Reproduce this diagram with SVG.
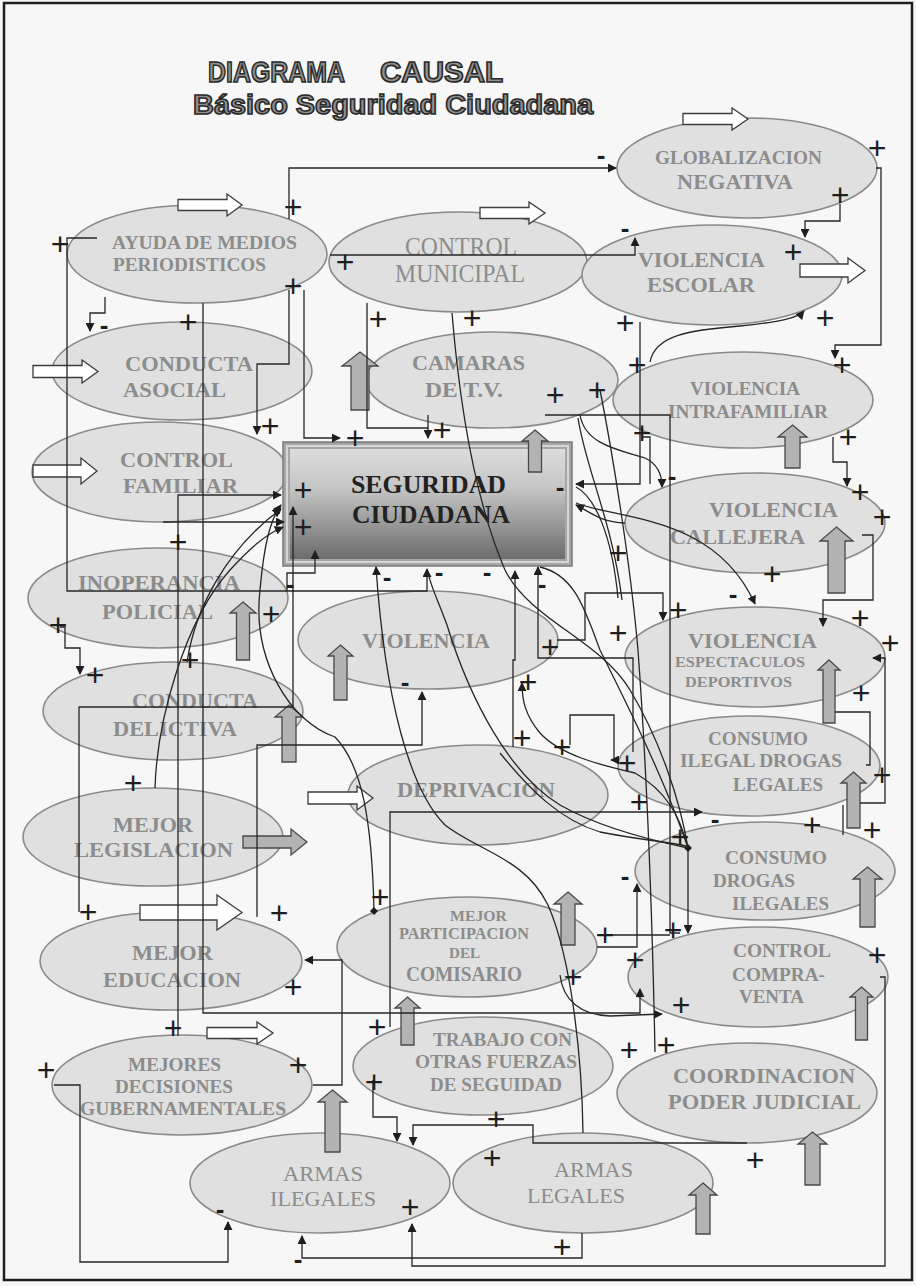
<svg xmlns="http://www.w3.org/2000/svg" width="916" height="1286" viewBox="0 0 916 1286">
<defs>
<style>
.bg{fill:#f7f7f7}
.frame{fill:none;stroke:#1e1e1e;stroke-width:2.5}
.title{font-family:"Liberation Sans",Arial,sans-serif;font-weight:bold;fill:#8f8f8f;stroke:#2a2a2a;stroke-width:1.6}
.n{fill:#e0e0e0;stroke:#8a8a8a;stroke-width:1.6}
.t{font-family:"Liberation Serif","Times New Roman",serif;font-weight:bold;fill:#8c8c8c}
.tr{font-family:"Liberation Serif","Times New Roman",serif;font-weight:normal;fill:#8c8c8c}
.tb{font-family:"Liberation Serif","Times New Roman",serif;font-weight:bold;fill:#222}
.ha{fill:#ffffff;stroke:#3c3c3c;stroke-width:1.3}
.ga{fill:#b3b3b3;stroke:#484848;stroke-width:1.3}
.c{fill:none;stroke:#262626;stroke-width:1.3}
.p{font-family:"Liberation Sans",Arial,sans-serif;font-size:32px;fill:#1e1e1e;text-anchor:middle}
.m{font-family:"Liberation Sans",Arial,sans-serif;font-size:26px;font-weight:bold;fill:#1e1e1e;text-anchor:middle}
</style>
<linearGradient id="g" x1="0" y1="0" x2="0" y2="1">
<stop offset="0" stop-color="#dcdcdc"/>
<stop offset="0.35" stop-color="#c6c6c6"/>
<stop offset="1" stop-color="#6c6c6c"/>
</linearGradient>
<marker id="ah" viewBox="0 0 10 10" refX="9" refY="5" markerWidth="9" markerHeight="9" markerUnits="userSpaceOnUse" orient="auto">
<path d="M0,0 L10,5 L0,10 z" fill="#1e1e1e"/>
</marker>
<marker id="dot" viewBox="0 0 10 10" refX="5" refY="5" markerWidth="8" markerHeight="8" markerUnits="userSpaceOnUse" orient="auto">
<path d="M5,0 L10,5 L5,10 L0,5 z" fill="#1e1e1e"/>
</marker>
</defs>

<rect class="bg" x="0" y="0" width="916" height="1286"/>
<rect class="frame" x="4" y="3" width="908" height="1277"/>

<g id="title">
<text class="title" x="208" y="82" font-size="29" textLength="137" lengthAdjust="spacingAndGlyphs">DIAGRAMA</text>
<text class="title" x="380" y="82" font-size="29" textLength="123" lengthAdjust="spacingAndGlyphs">CAUSAL</text>
<text class="title" x="193" y="114" font-size="28" textLength="400" lengthAdjust="spacingAndGlyphs">Básico Seguridad Ciudadana</text>
</g>

<g id="node-globalizacion"><ellipse class="n" cx="747" cy="168" rx="130" ry="50"/>
<text class="t" x="655" y="164" font-size="19" textLength="167" lengthAdjust="spacingAndGlyphs">GLOBALIZACION</text>
<text class="t" x="677" y="189" font-size="20" textLength="116" lengthAdjust="spacingAndGlyphs">NEGATIVA</text></g>

<g id="node-ayuda"><ellipse class="n" cx="197" cy="254" rx="130" ry="49"/>
<text class="t" x="112" y="249" font-size="19" textLength="185" lengthAdjust="spacingAndGlyphs">AYUDA DE MEDIOS</text>
<text class="t" x="113" y="271" font-size="19" textLength="153" lengthAdjust="spacingAndGlyphs">PERIODISTICOS</text></g>

<g id="node-control-municipal"><ellipse class="n" cx="458" cy="262" rx="129" ry="50"/>
<text class="tr" x="405" y="255" font-size="25" textLength="112" lengthAdjust="spacingAndGlyphs">CONTROL</text>
<text class="tr" x="395" y="282" font-size="25" textLength="130" lengthAdjust="spacingAndGlyphs">MUNICIPAL</text></g>

<g id="node-violencia-escolar"><ellipse class="n" cx="712" cy="275" rx="130" ry="50"/>
<text class="t" x="638" y="267" font-size="22" textLength="127" lengthAdjust="spacingAndGlyphs">VIOLENCIA</text>
<text class="t" x="647" y="292" font-size="22" textLength="108" lengthAdjust="spacingAndGlyphs">ESCOLAR</text></g>

<g id="node-conducta-asocial"><ellipse class="n" cx="182" cy="371" rx="130" ry="49"/>
<text class="t" x="125" y="371" font-size="22" textLength="128" lengthAdjust="spacingAndGlyphs">CONDUCTA</text>
<text class="t" x="123" y="397" font-size="22" textLength="103" lengthAdjust="spacingAndGlyphs">ASOCIAL</text></g>

<g id="node-camaras"><ellipse class="n" cx="492" cy="380" rx="126" ry="48"/>
<text class="t" x="412" y="370" font-size="22" textLength="113" lengthAdjust="spacingAndGlyphs">CAMARAS</text>
<text class="t" x="425" y="397" font-size="22" textLength="78" lengthAdjust="spacingAndGlyphs">DE T.V.</text></g>

<g id="node-violencia-intrafamiliar"><ellipse class="n" cx="743" cy="400" rx="130" ry="48"/>
<text class="t" x="690" y="395" font-size="19" textLength="110" lengthAdjust="spacingAndGlyphs">VIOLENCIA</text>
<text class="t" x="668" y="418" font-size="19" textLength="160" lengthAdjust="spacingAndGlyphs">INTRAFAMILIAR</text></g>

<g id="node-control-familiar"><ellipse class="n" cx="160" cy="472" rx="128" ry="50"/>
<text class="t" x="120" y="467" font-size="22" textLength="113" lengthAdjust="spacingAndGlyphs">CONTROL</text>
<text class="t" x="123" y="493" font-size="22" textLength="115" lengthAdjust="spacingAndGlyphs">FAMILIAR</text></g>

<g id="node-violencia-callejera"><ellipse class="n" cx="755" cy="523" rx="130" ry="50"/>
<text class="t" x="709" y="517" font-size="22" textLength="129" lengthAdjust="spacingAndGlyphs">VIOLENCIA</text>
<text class="t" x="670" y="544" font-size="22" textLength="135" lengthAdjust="spacingAndGlyphs">CALLEJERA</text></g>

<g id="node-inoperancia"><ellipse class="n" cx="158" cy="598" rx="130" ry="50"/>
<text class="t" x="78" y="590" font-size="22" textLength="162" lengthAdjust="spacingAndGlyphs">INOPERANCIA</text>
<text class="t" x="102" y="619" font-size="22" textLength="111" lengthAdjust="spacingAndGlyphs">POLICIAL</text></g>

<g id="node-violencia"><ellipse class="n" cx="428" cy="640" rx="130" ry="49"/>
<text class="t" x="362" y="648" font-size="22" textLength="128" lengthAdjust="spacingAndGlyphs">VIOLENCIA</text></g>

<g id="node-violencia-espectaculos"><ellipse class="n" cx="755" cy="657" rx="130" ry="50"/>
<text class="t" x="688" y="648" font-size="22" textLength="129" lengthAdjust="spacingAndGlyphs">VIOLENCIA</text>
<text class="t" x="675" y="667" font-size="14" textLength="130" lengthAdjust="spacingAndGlyphs">ESPECTACULOS</text>
<text class="t" x="685" y="687" font-size="15" textLength="107" lengthAdjust="spacingAndGlyphs">DEPORTIVOS</text></g>

<g id="node-conducta-delictiva"><ellipse class="n" cx="173" cy="711" rx="130" ry="49"/>
<text class="t" x="132" y="708" font-size="22" textLength="126" lengthAdjust="spacingAndGlyphs">CONDUCTA</text>
<text class="t" x="113" y="736" font-size="22" textLength="124" lengthAdjust="spacingAndGlyphs">DELICTIVA</text></g>

<g id="node-consumo-ilegal-drogas-legales"><ellipse class="n" cx="749" cy="766" rx="131" ry="50"/>
<text class="t" x="708" y="745" font-size="19" textLength="100" lengthAdjust="spacingAndGlyphs">CONSUMO</text>
<text class="t" x="680" y="767" font-size="19" textLength="162" lengthAdjust="spacingAndGlyphs">ILEGAL DROGAS</text>
<text class="t" x="733" y="791" font-size="19" textLength="90" lengthAdjust="spacingAndGlyphs">LEGALES</text></g>

<g id="node-deprivacion"><ellipse class="n" cx="478" cy="795" rx="130" ry="50"/>
<text class="t" x="397" y="797" font-size="22" textLength="158" lengthAdjust="spacingAndGlyphs">DEPRIVACION</text></g>

<g id="node-mejor-legislacion"><ellipse class="n" cx="153" cy="837" rx="130" ry="49"/>
<text class="t" x="113" y="832" font-size="22" textLength="80" lengthAdjust="spacingAndGlyphs">MEJOR</text>
<text class="t" x="74" y="857" font-size="22" textLength="159" lengthAdjust="spacingAndGlyphs">LEGISLACION</text></g>

<g id="node-consumo-drogas-ilegales"><ellipse class="n" cx="765" cy="871" rx="130" ry="49"/>
<text class="t" x="725" y="864" font-size="19" textLength="102" lengthAdjust="spacingAndGlyphs">CONSUMO</text>
<text class="t" x="713" y="887" font-size="19" textLength="82" lengthAdjust="spacingAndGlyphs">DROGAS</text>
<text class="t" x="732" y="910" font-size="19" textLength="97" lengthAdjust="spacingAndGlyphs">ILEGALES</text></g>

<g id="node-mejor-educacion"><ellipse class="n" cx="171" cy="961" rx="131" ry="49"/>
<text class="t" x="132" y="960" font-size="22" textLength="81" lengthAdjust="spacingAndGlyphs">MEJOR</text>
<text class="t" x="103" y="987" font-size="22" textLength="138" lengthAdjust="spacingAndGlyphs">EDUCACION</text></g>

<g id="node-mejor-participacion"><ellipse class="n" cx="467" cy="947" rx="130" ry="50"/>
<text class="t" x="450" y="921" font-size="15" textLength="57" lengthAdjust="spacingAndGlyphs">MEJOR</text>
<text class="t" x="399" y="939" font-size="16" textLength="130" lengthAdjust="spacingAndGlyphs">PARTICIPACION</text>
<text class="t" x="449" y="958" font-size="15" textLength="31" lengthAdjust="spacingAndGlyphs">DEL</text>
<text class="t" x="406" y="981" font-size="20" textLength="116" lengthAdjust="spacingAndGlyphs">COMISARIO</text></g>

<g id="node-control-compraventa"><ellipse class="n" cx="758" cy="977" rx="130" ry="50"/>
<text class="t" x="733" y="957" font-size="19" textLength="98" lengthAdjust="spacingAndGlyphs">CONTROL</text>
<text class="t" x="732" y="981" font-size="19" textLength="93" lengthAdjust="spacingAndGlyphs">COMPRA-</text>
<text class="t" x="739" y="1003" font-size="19" textLength="65" lengthAdjust="spacingAndGlyphs">VENTA</text></g>

<g id="node-mejores-decisiones"><ellipse class="n" cx="182" cy="1085" rx="130" ry="50"/>
<text class="t" x="128" y="1071" font-size="19" textLength="93" lengthAdjust="spacingAndGlyphs">MEJORES</text>
<text class="t" x="115" y="1093" font-size="19" textLength="118" lengthAdjust="spacingAndGlyphs">DECISIONES</text>
<text class="t" x="80" y="1115" font-size="19" textLength="206" lengthAdjust="spacingAndGlyphs">GUBERNAMENTALES</text></g>

<g id="node-trabajo"><ellipse class="n" cx="483" cy="1066" rx="130" ry="49"/>
<text class="t" x="433" y="1046" font-size="19" textLength="139" lengthAdjust="spacingAndGlyphs">TRABAJO CON</text>
<text class="t" x="415" y="1068" font-size="19" textLength="162" lengthAdjust="spacingAndGlyphs">OTRAS FUERZAS</text>
<text class="t" x="430" y="1091" font-size="19" textLength="132" lengthAdjust="spacingAndGlyphs">DE SEGUIDAD</text></g>

<g id="node-coordinacion"><ellipse class="n" cx="747" cy="1093" rx="130" ry="50"/>
<text class="t" x="673" y="1083" font-size="22" textLength="182" lengthAdjust="spacingAndGlyphs">COORDINACION</text>
<text class="t" x="668" y="1109" font-size="22" textLength="193" lengthAdjust="spacingAndGlyphs">PODER JUDICIAL</text></g>

<g id="node-armas-ilegales"><ellipse class="n" cx="320" cy="1183" rx="130" ry="50"/>
<text class="tr" x="283" y="1181" font-size="22" textLength="80" lengthAdjust="spacingAndGlyphs">ARMAS</text>
<text class="tr" x="270" y="1206" font-size="22" textLength="106" lengthAdjust="spacingAndGlyphs">ILEGALES</text></g>

<g id="node-armas-legales"><ellipse class="n" cx="583" cy="1183" rx="130" ry="50"/>
<text class="tr" x="554" y="1177" font-size="22" textLength="79" lengthAdjust="spacingAndGlyphs">ARMAS</text>
<text class="tr" x="527" y="1203" font-size="22" textLength="98" lengthAdjust="spacingAndGlyphs">LEGALES</text></g>

<g id="node-seguridad-ciudadana">
<rect x="283" y="442" width="289" height="124" fill="#a6a6a6" stroke="#7a7a7a" stroke-width="1.5"/>
<rect x="287" y="446" width="281" height="116" fill="none" stroke="#d6d6d6" stroke-width="2"/>
<rect x="290" y="449" width="275" height="110" fill="url(#g)"/>
<text class="tb" x="351" y="493" font-size="26" textLength="155" lengthAdjust="spacingAndGlyphs">SEGURIDAD</text>
<text class="tb" x="352" y="523" font-size="26" textLength="158" lengthAdjust="spacingAndGlyphs">CIUDADANA</text>
</g>

<g id="exogenous-arrows">
<path class="ha" d="M683,113.5 H732 V108 L748,119 L732,130 V124.5 H683 Z"/>
<path class="ha" d="M178,199.5 H227 V194 L242,205 L227,216 V210.5 H178 Z"/>
<path class="ha" d="M480,207.5 H529 V202 L545,213 L529,224 V218.5 H480 Z"/>
<path class="ha" d="M800,264 H848 V258 L865,270.5 L848,283 V277 H800 Z"/>
<path class="ha" d="M33,365.5 H82 V360 L98,371.5 L82,383 V377.5 H33 Z"/>
<path class="ha" d="M33,465 H81 V458 L97,471 L81,484 V477 H33 Z"/>
<path class="ha" d="M308,792 H357 V786 L373,798 L357,810 V804 H308 Z"/>
<path class="ha" d="M140,905 H217 V895 L242,912.5 L217,930 V920 H140 Z"/>
<path class="ha" d="M207,1027.5 H257 V1022 L273,1033 L257,1044 V1038.5 H207 Z"/>
<path class="ga" d="M243,836 H291 V829 L307,842 L291,855 V848 H243 Z"/>
<path class="ga" d="M360,352 L378,366 H369 V410 H351 V366 H342 Z"/>
<path class="ga" d="M535,430 L548,441 H541.5 V472 H528.5 V441 H522 Z"/>
<path class="ga" d="M792.5,425 L807,437 H800 V468 H785 V437 H778 Z"/>
<path class="ga" d="M836.5,527 L853,541 H845 V593 H828 V541 H820 Z"/>
<path class="ga" d="M243,602 L256,613 H249.5 V660 H236.5 V613 H230 Z"/>
<path class="ga" d="M340.5,645 L353,656 H347 V700 H334 V656 H328 Z"/>
<path class="ga" d="M289,705 L303,717 H296 V762 H282 V717 H275 Z"/>
<path class="ga" d="M829,660 L840,670 H835 V723 H823 V670 H818 Z"/>
<path class="ga" d="M853.5,772 L866,783 H860 V828 H847 V783 H841 Z"/>
<path class="ga" d="M867.5,867 L882,879 H875 V927 H860 V879 H853 Z"/>
<path class="ga" d="M568,892 L582,904 H575 V945 H561 V904 H554 Z"/>
<path class="ga" d="M407.5,997 L420,1008 H414 V1045 H401 V1008 H395 Z"/>
<path class="ga" d="M861.5,987 L873,997 H867.5 V1040 H855.5 V997 H850 Z"/>
<path class="ga" d="M332.5,1090 L347,1102 H340 V1152 H325 V1102 H318 Z"/>
<path class="ga" d="M812.5,1132 L827,1144 H820 V1185 H805 V1144 H798 Z"/>
<path class="ga" d="M703,1183 L717,1195 H710 V1234 H696 V1195 H689 Z"/>
</g>

<g id="connectors">
<path class="c" d="M289,219 V168 H616" marker-end="url(#ah)"/>
<path class="c" d="M876,168 H881 V345 H835 V358" marker-end="url(#ah)"/>
<path class="c" d="M840,204 V221 H805 V237" marker-end="url(#ah)"/>
<path class="c" d="M330,255 H635 V238" marker-end="url(#ah)"/>
<path class="c" d="M97,238 H67 V591 H427 V569" marker-end="url(#ah)"/>
<path class="c" d="M105,297 V313 H90 V331" marker-end="url(#ah)"/>
<path class="c" d="M289,290 V364 H257 V434" marker-end="url(#ah)"/>
<path class="c" d="M304,290 V438 H340" marker-end="url(#ah)"/>
<path class="c" d="M203,303 V1013 H640 V989" marker-end="url(#ah)"/>
<path class="c" d="M178,1036 V495 H281" marker-end="url(#ah)"/>
<path class="c" d="M163,522 H284" marker-end="url(#ah)"/>
<path class="c" d="M79,912 V707 H293 V507" marker-end="url(#ah)"/>
<path class="c" d="M257,917 V745 H422 V692" marker-end="url(#ah)"/>
<path class="c" d="M155,788 C157,720 185,620 230,570 C250,548 265,535 283,527" marker-end="url(#ah)"/>
<path class="c" d="M187,662 C195,610 225,550 281,509" marker-end="url(#ah)"/>
<path class="c" d="M374,911 C372,820 362,765 335,737 C290,722 252,660 260,590 C264,545 270,520 281,505" marker-start="url(#dot)" marker-end="url(#ah)"/>
<path class="c" d="M54,1085 H80 V1262 H228 V1222" marker-end="url(#ah)"/>
<path class="c" d="M582,1233 V1258 H302 V1236" marker-end="url(#ah)"/>
<path class="c" d="M880,977 H885 V1266 H412 V1224" marker-end="url(#ah)"/>
<path class="c" d="M373,1080 V1117 H397 V1141" marker-end="url(#ah)"/>
<path class="c" d="M747,1143 H533 V1125 H413 V1145" marker-end="url(#ah)"/>
<path class="c" d="M313,1085 H342 V960 H305" marker-end="url(#ah)"/>
<path class="c" d="M390,1027 V812 H702" marker-end="url(#ah)"/>
<path class="c" d="M597,935 H670"/>
<path class="c" d="M597,947 H637 V884" marker-end="url(#ah)"/>
<path class="c" d="M560,975 C563,1000 580,1015 610,1016 L662,1014" marker-end="url(#ah)"/>
<path class="c" d="M545,415 H670 V933 H680"/>
<path class="c" d="M688,848 V933" marker-start="url(#dot)" marker-end="url(#ah)"/>
<path class="c" d="M833,437 V462 H847 V486" marker-end="url(#ah)"/>
<path class="c" d="M862,535 H873 V600 H823 V626" marker-end="url(#ah)"/>
<path class="c" d="M860,803 H885 V658 H873" marker-end="url(#ah)"/>
<path class="c" d="M835,712 H870 V765 H866"/>
<path class="c" d="M843,805 V835"/>
<path class="c" d="M650,362 C655,335 690,330 740,326 C780,322 798,318 804,311" marker-end="url(#ah)"/>
<path class="c" d="M640,322 V484 H576" marker-end="url(#ah)"/>
<path class="c" d="M643,437 H650 V484"/>
<path class="c" d="M367,303 V428 H428 V438" marker-end="url(#ah)"/>
<path class="c" d="M428,415 V428"/>
<path class="c" d="M452,313 C460,410 475,500 505,570 C530,620 600,640 630,690 C660,740 680,800 688,848"/>
<path class="c" d="M580,415 C585,445 620,450 645,458 C660,465 662,478 662,487" marker-end="url(#ah)"/>
<path class="c" d="M600,390 C612,450 630,560 638,650 C646,760 652,900 655,1052"/>
<path class="c" d="M625,523 C600,522 590,512 576,505" marker-end="url(#ah)"/>
<path class="c" d="M618,598 C612,535 595,497 576,487"/>
<path class="c" d="M578,418 C586,470 612,520 622,600"/>
<path class="c" d="M576,503 C620,520 715,515 755,604" marker-end="url(#ah)"/>
<path class="c" d="M633,752 V658 H538 V567" marker-end="url(#ah)"/>
<path class="c" d="M688,848 C665,780 625,700 600,650 C585,610 575,575 540,567" />
<path class="c" d="M557,640 H585 V593 H663 V620" marker-end="url(#ah)"/>
<path class="c" d="M513,747 V660 H515 V571" marker-end="url(#ah)"/>
<path class="c" d="M688,848 C680,815 665,790 635,773 C600,765 560,755 540,733 C525,715 522,700 522,683" marker-end="url(#ah)"/>
<path class="c" d="M570,745 V715 H614 V760 L611,760" marker-end="url(#ah)"/>
<path class="c" d="M583,1133 C582,1060 572,960 548,905 C525,858 480,852 445,825 C410,790 385,700 376,567" marker-end="url(#ah)"/>
<path class="c" d="M688,848 C640,838 595,825 560,805 C510,775 470,700 447,625 C438,600 430,585 428,572"/>
<path class="c" d="M500,753 C530,790 560,820 600,832 C640,840 670,842 686,846"/>
<path class="c" d="M60,627 H65 V648 H80 V674" marker-end="url(#ah)"/>
<path class="c" d="M287,591 V573 H315 V551" marker-end="url(#ah)"/>

<g id="polarities">
<text class="p" x="60" y="255">+</text>
<text class="p" x="293" y="218">+</text>
<text class="p" x="293" y="297">+</text>
<text class="p" x="188" y="333">+</text>
<text class="p" x="345" y="273">+</text>
<text class="p" x="378" y="330">+</text>
<text class="p" x="270" y="437">+</text>
<text class="p" x="355" y="449">+</text>
<text class="p" x="442" y="441">+</text>
<text class="p" x="303" y="501">+</text>
<text class="p" x="303" y="538">+</text>
<text class="p" x="877" y="159">+</text>
<text class="p" x="840" y="206">+</text>
<text class="p" x="793" y="263">+</text>
<text class="p" x="825" y="329">+</text>
<text class="p" x="625" y="334">+</text>
<text class="p" x="472" y="329">+</text>
<text class="p" x="637" y="376">+</text>
<text class="p" x="842" y="376">+</text>
<text class="p" x="555" y="406">+</text>
<text class="p" x="597" y="401">+</text>
<text class="p" x="642" y="444">+</text>
<text class="p" x="848" y="448">+</text>
<text class="p" x="618" y="564">+</text>
<text class="p" x="618" y="644">+</text>
<text class="p" x="550" y="658">+</text>
<text class="p" x="271" y="625">+</text>
<text class="p" x="528" y="693">+</text>
<text class="p" x="522" y="749">+</text>
<text class="p" x="562" y="758">+</text>
<text class="p" x="178" y="553">+</text>
<text class="p" x="58" y="636">+</text>
<text class="p" x="95" y="686">+</text>
<text class="p" x="190" y="671">+</text>
<text class="p" x="133" y="794">+</text>
<text class="p" x="860" y="503">+</text>
<text class="p" x="882" y="528">+</text>
<text class="p" x="772" y="585">+</text>
<text class="p" x="860" y="629">+</text>
<text class="p" x="678" y="621">+</text>
<text class="p" x="890" y="654">+</text>
<text class="p" x="861" y="704">+</text>
<text class="p" x="627" y="774">+</text>
<text class="p" x="639" y="813">+</text>
<text class="p" x="680" y="848">+</text>
<text class="p" x="812" y="836">+</text>
<text class="p" x="872" y="841">+</text>
<text class="p" x="882" y="786">+</text>
<text class="p" x="88" y="923">+</text>
<text class="p" x="279" y="924">+</text>
<text class="p" x="293" y="998">+</text>
<text class="p" x="173" y="1039">+</text>
<text class="p" x="377" y="1038">+</text>
<text class="p" x="46" y="1081">+</text>
<text class="p" x="298" y="1076">+</text>
<text class="p" x="374" y="1093">+</text>
<text class="p" x="380" y="908">+</text>
<text class="p" x="410" y="1218">+</text>
<text class="p" x="605" y="946">+</text>
<text class="p" x="673" y="941">+</text>
<text class="p" x="635" y="971">+</text>
<text class="p" x="573" y="988">+</text>
<text class="p" x="681" y="1016">+</text>
<text class="p" x="877" y="966">+</text>
<text class="p" x="629" y="1061">+</text>
<text class="p" x="666" y="1056">+</text>
<text class="p" x="496" y="1130">+</text>
<text class="p" x="492" y="1169">+</text>
<text class="p" x="755" y="1171">+</text>
<text class="p" x="562" y="1258">+</text>
<text class="m" x="601" y="164">-</text>
<text class="m" x="625" y="237">-</text>
<text class="m" x="104" y="334">-</text>
<text class="m" x="560" y="496">-</text>
<text class="m" x="387" y="586">-</text>
<text class="m" x="439" y="581">-</text>
<text class="m" x="487" y="581">-</text>
<text class="m" x="542" y="593">-</text>
<text class="m" x="290" y="593">-</text>
<text class="m" x="405" y="691">-</text>
<text class="m" x="672" y="485">-</text>
<text class="m" x="733" y="603">-</text>
<text class="m" x="715" y="828">-</text>
<text class="m" x="625" y="885">-</text>
<text class="m" x="220" y="1218">-</text>
<text class="m" x="298" y="1268">-</text>
</g>
</g>
</svg>
